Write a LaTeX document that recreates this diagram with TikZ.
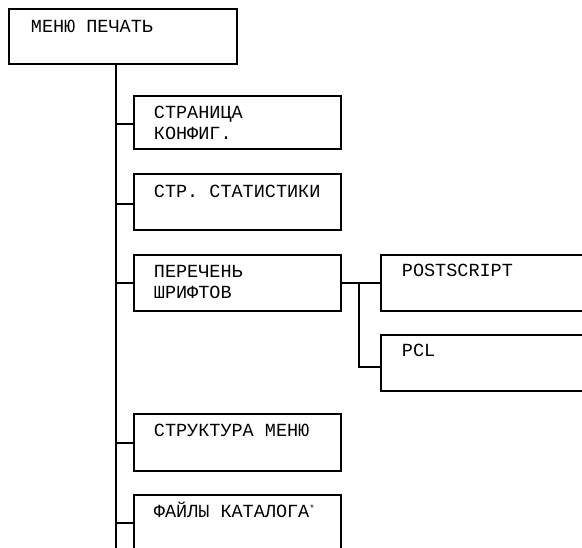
\documentclass[tikz,border=0pt]{standalone}
\usepackage{fontspec}
\setmonofont{Liberation Mono}
\usetikzlibrary{positioning,calc}
\tikzset{
every picture/.style={line width=1.8pt, x=1pt, y=1pt},
menubox/.style={draw, rectangle, anchor=north west, inner sep=0pt,
  minimum width=207pt, minimum height=55pt},
menutext/.style={anchor=base west, inner sep=0pt, align=left,
  font=\ttfamily\fontsize{18.5}{21}\selectfont}
}

\begin{document}
\begin{tikzpicture}
    \clip (0,0) rectangle (582,-548);
    \fill[white] (0,0) rectangle (582,-548);
    % top level
    \node[menubox, minimum width=228pt] (menu) at (8,-8) {};
    \node[menutext] (menulbl) at ([xshift=22pt,yshift=-25pt]menu.north west) {МЕНЮ ПЕЧАТЬ};
    % second level
    \node[menubox, minimum height=53pt] (config) at (133,-95) {};
    \node[menutext] (configlbl) at ([xshift=20pt,yshift=-45pt]config.north west) {СТРАНИЦА\\КОНФИГ.};
    \node[menubox, minimum height=56pt] (stats) at (133,-173) {};
    \node[menutext] (statslbl) at ([xshift=20pt,yshift=-25pt]stats.north west) {СТР. СТАТИСТИКИ};
    \node[menubox, minimum height=56pt] (fonts) at (133,-254) {};
    \node[menutext] (fontslbl) at ([xshift=20pt,yshift=-45pt]fonts.north west) {ПЕРЕЧЕНЬ\\ШРИФТОВ};
    \node[menubox, minimum height=57pt] (struct) at (133,-413) {};
    \node[menutext] (structlbl) at ([xshift=20pt,yshift=-24pt]struct.north west) {СТРУКТУРА МЕНЮ};
    \node[menubox, minimum height=70pt] (dirs) at (133,-494) {};
    \node[menutext] (dirslbl) at ([xshift=20pt,yshift=-24pt]dirs.north west)
      {ФАЙЛЫ КАТАЛОГА{\fontsize{9}{9}\selectfont\raisebox{6pt}{*}}};
    % third level
    \node[menubox, minimum width=230pt, minimum height=56pt] (ps) at (380,-254) {};
    \node[menutext] (pslbl) at ([xshift=21pt,yshift=-23pt]ps.north west) {POSTSCRIPT};
    \node[menubox, minimum width=230pt, minimum height=56pt] (pcl) at (380,-334) {};
    \node[menutext] (pcllbl) at ([xshift=21pt,yshift=-23pt]pcl.north west) {PCL};
    % connectors
    \coordinate (trunk) at (116,-560);
    \coordinate (fork) at (359,-283);
    \draw (menu.south -| trunk) -- (trunk);
    \draw ([yshift=-2pt]config.west -| trunk) -- ([yshift=-2pt]config.west);
    \draw ([yshift=-2pt]stats.west -| trunk) -- ([yshift=-2pt]stats.west);
    \draw (fonts.west -| trunk) -- (fonts.west);
    \draw ([yshift=-1pt]struct.west -| trunk) -- ([yshift=-1pt]struct.west);
    \draw (trunk |- 0,-523) -- (dirs.west |- 0,-523);
    \draw (fonts.east |- fork) -- (ps.west |- fork);
    \draw (fork) |- ([yshift=-4pt]pcl.west);
\end{tikzpicture}
\end{document}
